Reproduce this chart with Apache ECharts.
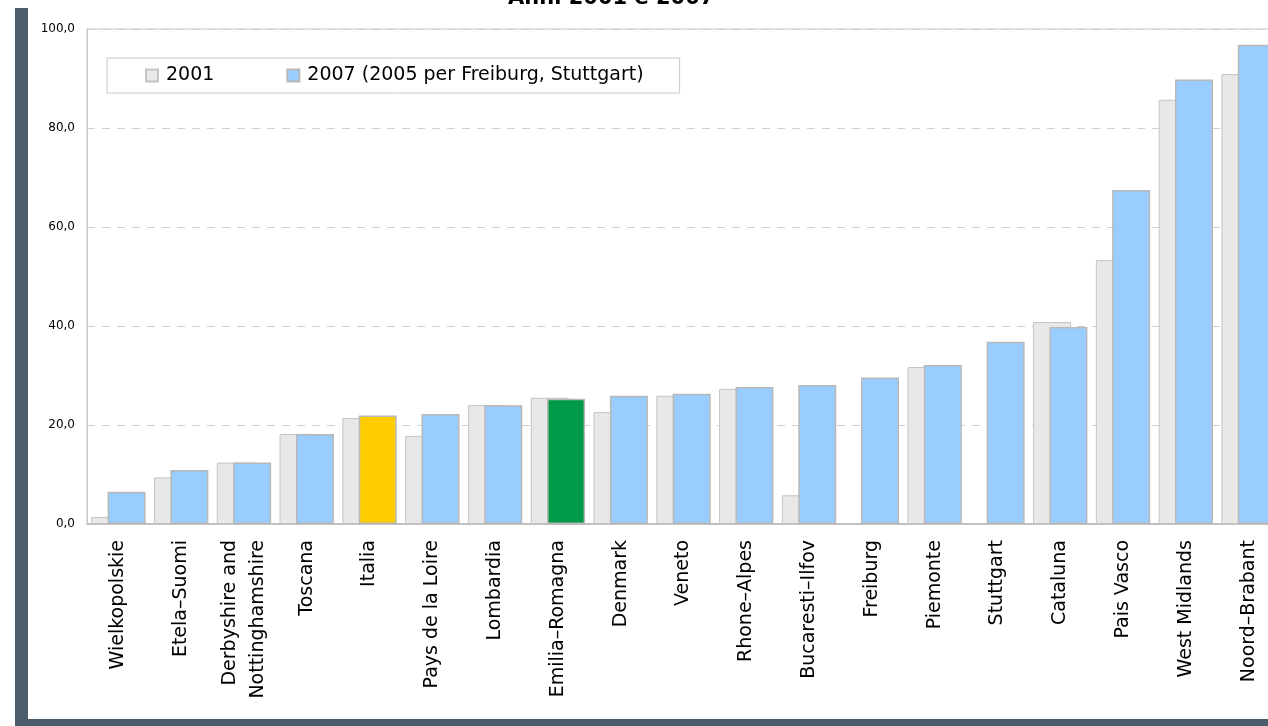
<!DOCTYPE html>
<html>
<head>
<meta charset="utf-8">
<style>
  html, body { margin: 0; padding: 0; background: #ffffff; }
  #chart { width: 1268px; height: 726px; }
</style>
<script src="https://cdn.jsdelivr.net/npm/echarts@6/dist/echarts.min.js"></script>
</head>
<body>
<div id="chart"></div>
<script>
// Regions, ordered by the 2007 value
const regions = [
  'Wielkopolskie', 'Etela\u2013Suomi', 'Derbyshire and\nNottinghamshire', 'Toscana', 'Italia',
  'Pays de la Loire', 'Lombardia', 'Emilia\u2013Romagna', 'Denmark', 'Veneto',
  'Rhone\u2013Alpes', 'Bucaresti\u2013Ilfov', 'Freiburg', 'Piemonte', 'Stuttgart',
  'Cataluna', 'Pais Vasco', 'West Midlands', 'Noord\u2013Brabant'
];
// Values for 2001 (no figure for Freiburg and Stuttgart)
const values2001 = [1.4, 9.4, 12.4, 18.2, 21.4, 17.8, 24.0, 25.5, 22.6, 25.9,
  27.3, 5.8, null, 31.7, null, 40.8, 53.3, 85.7, 90.9];
// Values for 2007 (2005 for Freiburg and Stuttgart)
const values2007 = [6.5, 10.9, 12.4, 18.2, 21.9, 22.2, 24.0, 25.3, 25.9, 26.3,
  27.7, 28.1, 29.6, 32.1, 36.8, 39.8, 67.5, 89.8, 96.8];
const yTicks = [0, 20, 40, 60, 80, 100];
const seriesNames = ['2001', '2007 (2005 per Freiburg, Stuttgart)'];

const FONT = '"DejaVu Sans", Verdana, sans-serif';
const highlight = { 'Italia': '#ffcc00', 'Emilia\u2013Romagna': '#009a48' };

const chart = echarts.init(document.getElementById('chart'), null, { renderer: 'canvas' });

const data2007 = values2007.map((v, i) => {
  const c = highlight[regions[i]];
  return c ? { value: v, itemStyle: { color: c } } : v;
});

chart.setOption({
  animation: false,
  backgroundColor: '#ffffff',
  title: {
    text: 'Anni 2001 e 2007',
    left: 508,
    top: -12,
    padding: 0,
    textStyle: { fontFamily: FONT, fontSize: 21, fontWeight: 'bold', color: '#000000' }
  },
  graphic: [
    { type: 'rect', shape: { x: 15, y: 8, width: 13, height: 718 }, style: { fill: '#4b5c6a' }, z: 100 },
    { type: 'rect', shape: { x: 15, y: 719, width: 1253, height: 7 }, style: { fill: '#4b5c6a' }, z: 100 }
  ],
  legend: {
    left: 107,
    top: 58,
    orient: 'horizontal',
    padding: [8, 36, 8, 38],
    itemGap: 72,
    itemWidth: 12,
    itemHeight: 12,
    backgroundColor: '#ffffff',
    borderColor: '#c8c8c8',
    borderWidth: 1,
    borderRadius: 0,
    icon: 'rect',
    textStyle: { fontFamily: FONT, fontSize: 19, color: '#000000', padding: [0, 0, 0, 3] },
    data: seriesNames
  },
  grid: {
    left: 87,
    top: 29,
    width: 1193,
    height: 495,
    show: true,
    borderColor: '#c8c8c8',
    borderWidth: 1,
    containLabel: false,
    outerBoundsMode: 'none'
  },
  xAxis: {
    type: 'category',
    data: regions,
    axisLine: { lineStyle: { color: '#c0c0c0', width: 2 } },
    axisTick: { show: false },
    axisLabel: {
      interval: 0,
      rotate: 90,
      margin: 16,
      fontFamily: FONT,
      fontSize: 19,
      lineHeight: 28,
      color: '#000000'
    }
  },
  yAxis: {
    type: 'value',
    min: yTicks[0],
    max: yTicks[yTicks.length - 1],
    interval: 20,
    axisLine: { show: true, lineStyle: { color: '#c8c8c8', width: 1 } },
    axisTick: { show: false },
    splitLine: { lineStyle: { color: '#d0d0d0', type: [8, 7], width: 1 } },
    axisLabel: {
      margin: 12,
      fontFamily: FONT,
      fontSize: 12,
      color: '#000000',
      formatter: v => v.toFixed(1).replace('.', ',')
    }
  },
  series: [
    {
      name: seriesNames[0],
      type: 'bar',
      data: values2001,
      barWidth: 38,
      barGap: '-57%',
      itemStyle: { color: '#e8e8e8', borderColor: '#c4c4c4', borderWidth: 1 }
    },
    {
      name: seriesNames[1],
      type: 'bar',
      data: data2007,
      barWidth: 38,
      itemStyle: { color: '#99ccff', borderColor: '#b8b8b8', borderWidth: 1.5 }
    }
  ]
});
</script>
</body>
</html>
